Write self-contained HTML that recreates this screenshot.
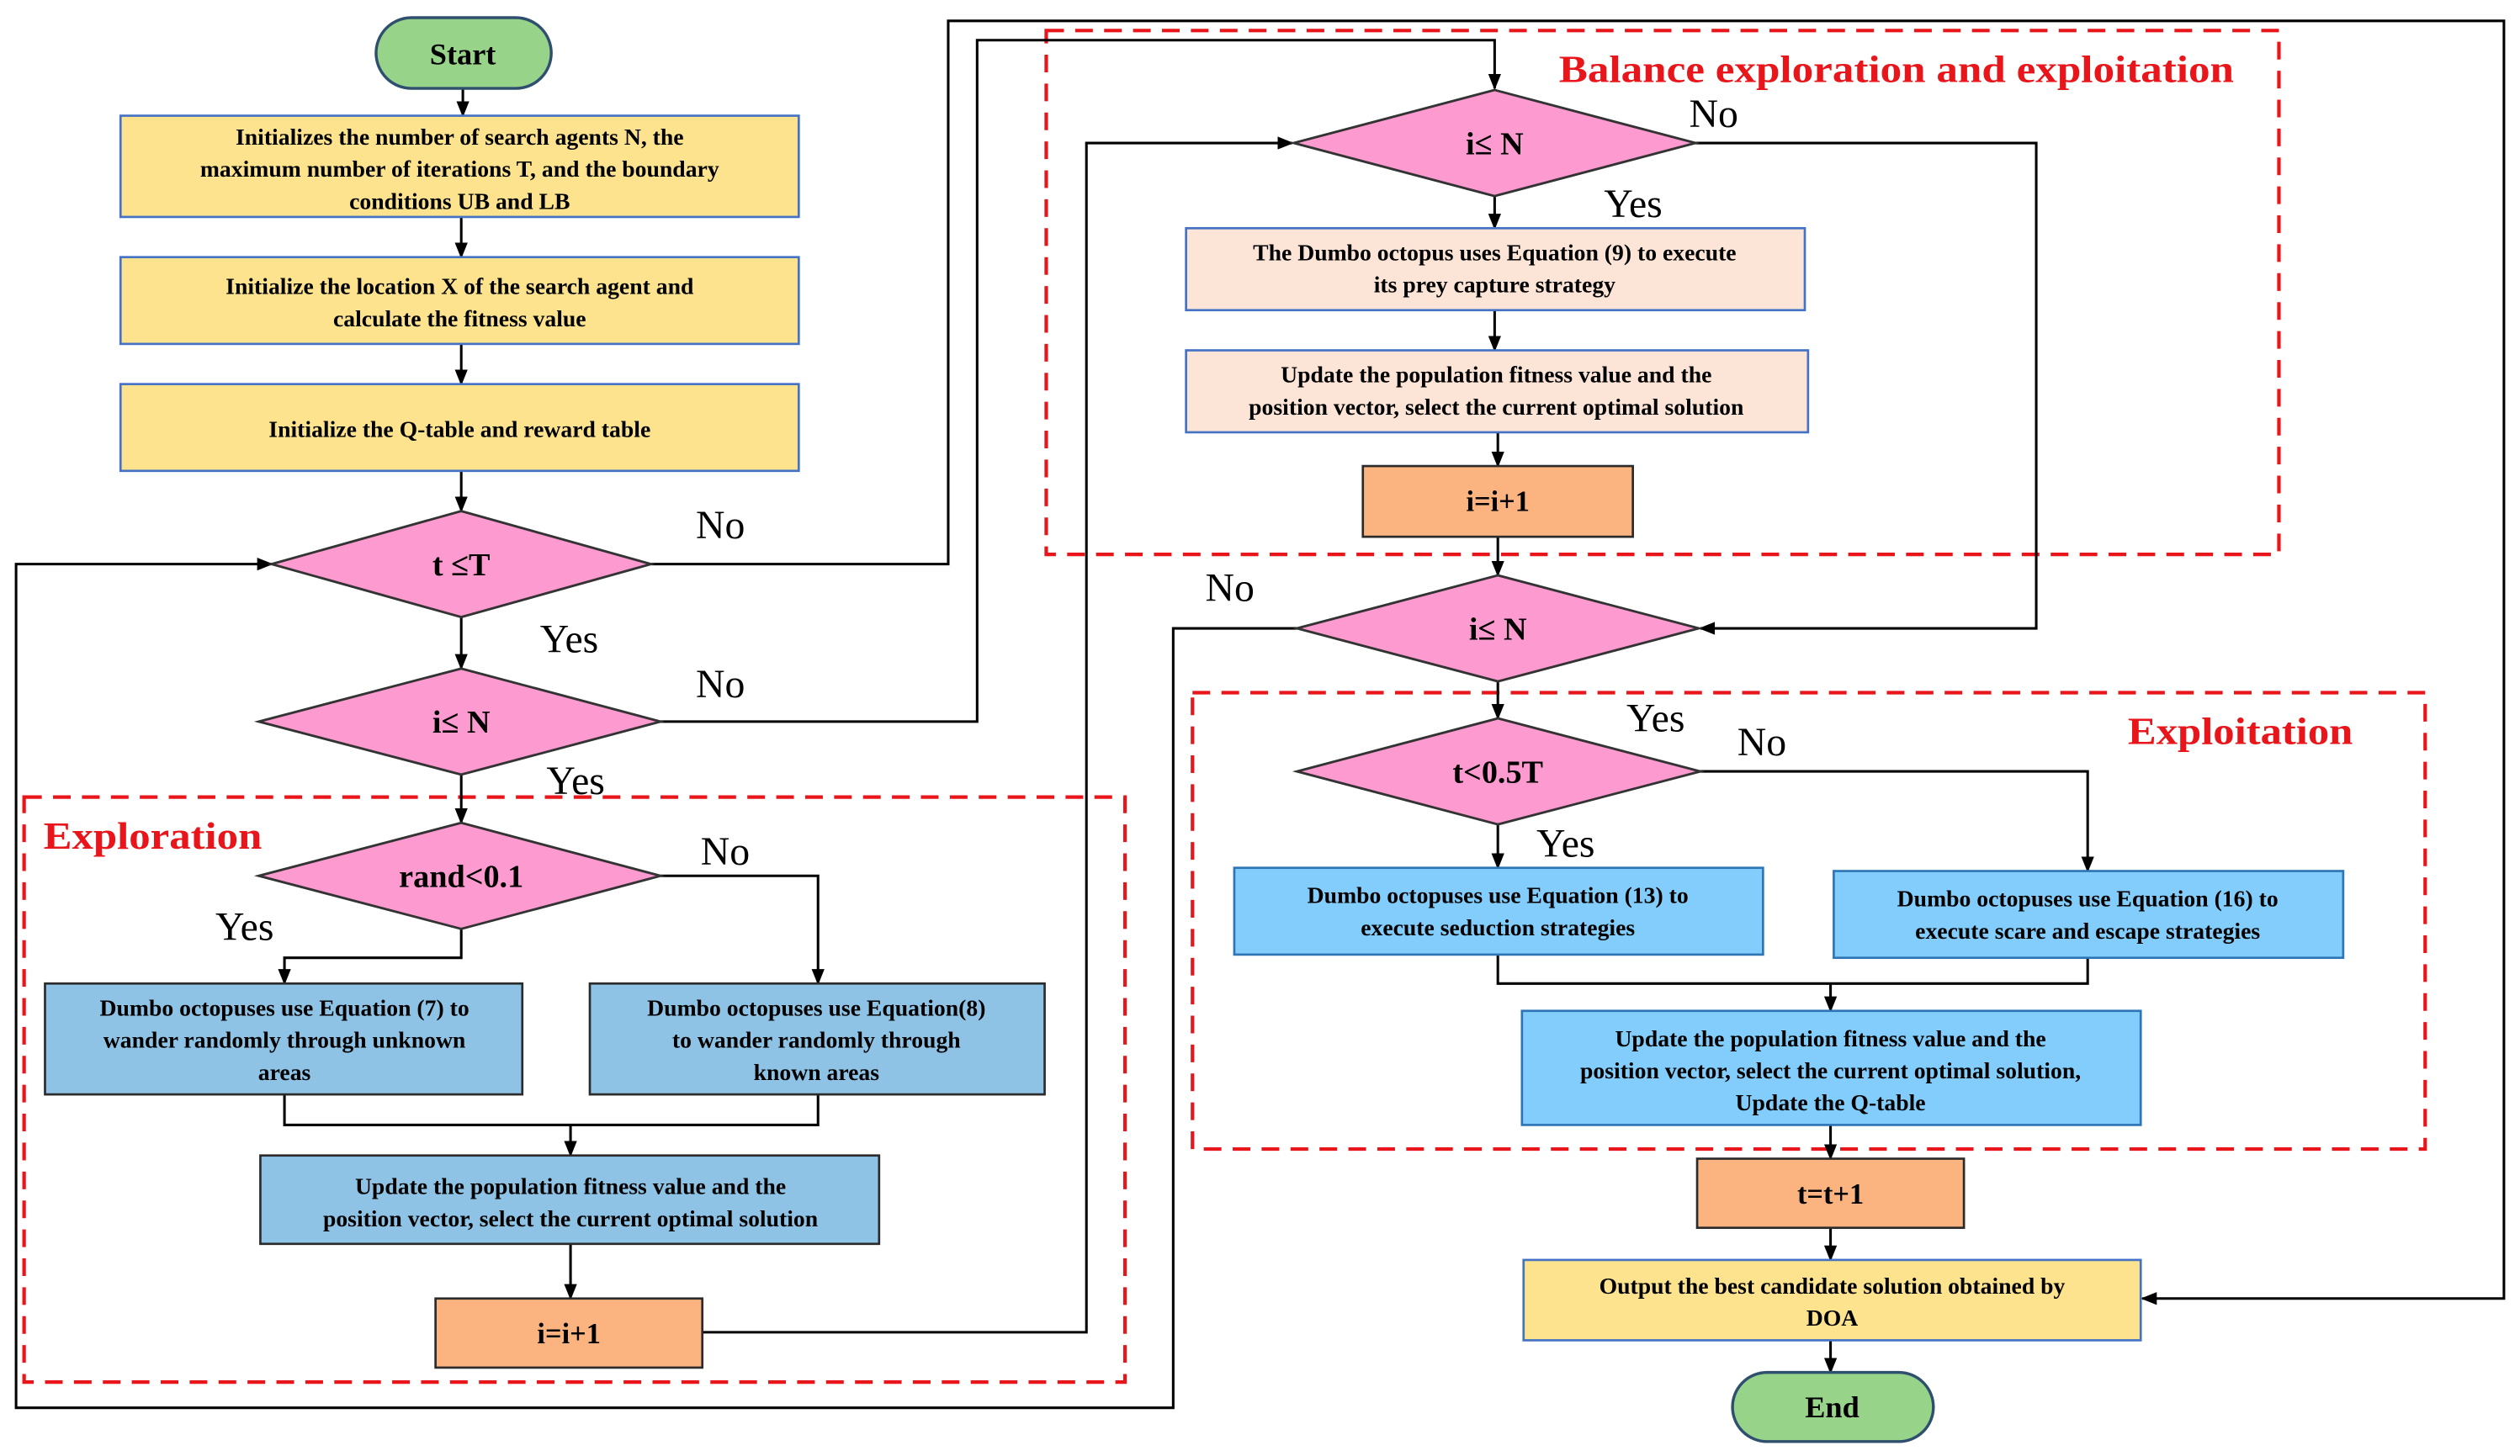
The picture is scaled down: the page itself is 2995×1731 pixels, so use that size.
<!DOCTYPE html>
<html><head><meta charset="utf-8"><style>
html,body{margin:0;padding:0;background:#fff;}
svg{display:block;}
text{font-family:"Liberation Serif","DejaVu Serif",serif;font-weight:bold;fill:#000;}
.t{font-size:14.5px;text-anchor:middle;}
.d{font-size:20px;text-anchor:middle;}
.l{font-size:25px;font-weight:normal;}
.r{font-size:24px;fill:#e8161b;}
</style></head><body>
<svg width="2995" height="1731" viewBox="0 0 1568 906" preserveAspectRatio="none" xmlns="http://www.w3.org/2000/svg" font-family="Liberation Serif, DejaVu Serif, serif">
<defs><marker id="a" markerWidth="10" markerHeight="10" refX="9" refY="5" orient="auto" markerUnits="userSpaceOnUse"><path d="M0,1 L10,5 L0,9 Z" fill="#000"/></marker></defs>
<g fill="none" stroke="#e8161b" stroke-width="2.2" stroke-dasharray="11,7">
<rect x="15" y="496" width="685" height="364"/>
<rect x="651" y="19" width="767" height="326"/>
<rect x="742" y="431" width="767" height="284"/>
</g>
<g fill="none" stroke="#000" stroke-width="1.6">
<path d="M288,55V72" marker-end="url(#a)"/>
<path d="M287,135V160" marker-end="url(#a)"/>
<path d="M287,214V239" marker-end="url(#a)"/>
<path d="M287,293V318" marker-end="url(#a)"/>
<path d="M287,384V416" marker-end="url(#a)"/>
<path d="M287,482V512" marker-end="url(#a)"/>
<path d="M287,578V596H177V612" marker-end="url(#a)"/>
<path d="M411,545H509V612" marker-end="url(#a)"/>
<path d="M177,681V700H509V681M355,700V719" marker-end="url(#a)"/>
<path d="M355,774V808" marker-end="url(#a)"/>
<path d="M437,829H676V89H804" marker-end="url(#a)"/>
<path d="M405,351H590V13H1558V808H1333" marker-end="url(#a)"/>
<path d="M411,449H608V25H930V55" marker-end="url(#a)"/>
<path d="M930,122V142" marker-end="url(#a)"/>
<path d="M930,193V218" marker-end="url(#a)"/>
<path d="M932,269V290" marker-end="url(#a)"/>
<path d="M932,334V358" marker-end="url(#a)"/>
<path d="M1055,89H1267V391H1058" marker-end="url(#a)"/>
<path d="M807,391H730V876H10V351H169" marker-end="url(#a)"/>
<path d="M932,424V447" marker-end="url(#a)"/>
<path d="M932,513V540" marker-end="url(#a)"/>
<path d="M1058,480H1299V542" marker-end="url(#a)"/>
<path d="M932,594V612H1299V596M1139,612V629" marker-end="url(#a)"/>
<path d="M1139,700V721" marker-end="url(#a)"/>
<path d="M1139,764V784" marker-end="url(#a)"/>
<path d="M1139,834V854" marker-end="url(#a)"/>
</g>
<rect x="234" y="11" width="109" height="44" rx="22" fill="#98d38a" stroke="#2f4f6f" stroke-width="1.8"/>
<text class="d" x="288" y="40" style="font-size:19px">Start</text>
<g fill="#fde38e" stroke="#4472c4" stroke-width="1.4">
<rect x="75" y="72" width="422" height="63"/>
<rect x="75" y="160" width="422" height="54"/>
<rect x="75" y="239" width="422" height="54"/>
<rect x="948" y="784" width="384" height="50"/>
</g>
<text class="t" x="286" y="90">Initializes the number of search agents N, the</text>
<text class="t" x="286" y="110">maximum number of iterations T, and the boundary</text>
<text class="t" x="286" y="130">conditions UB and LB</text>
<text class="t" x="286" y="183">Initialize the location X of the search agent and</text>
<text class="t" x="286" y="203">calculate the fitness value</text>
<text class="t" x="286" y="272">Initialize the Q-table and reward table</text>
<g fill="#fd9ad0" stroke="#333" stroke-width="1.5">
<path d="M169,351L287,318L405,351L287,384Z"/>
<path d="M161,449L287,416L411,449L287,482Z"/>
<path d="M161,545L287,512L411,545L287,578Z"/>
<path d="M805,89L930,56L1055,89L930,122Z"/>
<path d="M807,391L932,358L1057,391L932,424Z"/>
<path d="M807,480L932,447L1058,480L932,513Z"/>
</g>
<text class="d" x="287" y="358">t ≤T</text>
<text class="d" x="287" y="456">i≤ N</text>
<text class="d" x="287" y="552">rand&lt;0.1</text>
<text class="d" x="930" y="96">i≤ N</text>
<text class="d" x="932" y="398">i≤ N</text>
<text class="d" x="932" y="487">t&lt;0.5T</text>
<g fill="#8ec3e6" stroke="#2b2b2b" stroke-width="1.4">
<rect x="28" y="612" width="297" height="69"/>
<rect x="367" y="612" width="283" height="69"/>
<rect x="162" y="719" width="385" height="55"/>
</g>
<text class="t" x="177" y="632">Dumbo octopuses use Equation (7) to</text>
<text class="t" x="177" y="652">wander randomly through unknown</text>
<text class="t" x="177" y="672">areas</text>
<text class="t" x="508" y="632">Dumbo octopuses use Equation(8)</text>
<text class="t" x="508" y="652">to wander randomly through</text>
<text class="t" x="508" y="672">known areas</text>
<text class="t" x="355" y="743">Update the population fitness value and the</text>
<text class="t" x="355" y="763">position vector, select the current optimal solution</text>
<g fill="#fbb47f" stroke="#2b2b2b" stroke-width="1.4">
<rect x="271" y="808" width="166" height="43"/>
<rect x="848" y="290" width="168" height="44"/>
<rect x="1056" y="721" width="166" height="43"/>
</g>
<text class="d" x="354" y="836" style="font-size:18px">i=i+1</text>
<text class="d" x="932" y="318" style="font-size:18px">i=i+1</text>
<text class="d" x="1139" y="749" style="font-size:18px">t=t+1</text>
<g fill="#fce4d6" stroke="#4472c4" stroke-width="1.4">
<rect x="738" y="142" width="385" height="51"/>
<rect x="738" y="218" width="387" height="51"/>
</g>
<text class="t" x="930" y="162">The Dumbo octopus uses Equation (9) to execute</text>
<text class="t" x="930" y="182">its prey capture strategy</text>
<text class="t" x="931" y="238">Update the population fitness value and the</text>
<text class="t" x="931" y="258">position vector, select the current optimal solution</text>
<g fill="#82cdfb" stroke="#2e75b6" stroke-width="1.4">
<rect x="768" y="540" width="329" height="54"/>
<rect x="1141" y="542" width="317" height="54"/>
<rect x="947" y="629" width="385" height="71"/>
</g>
<text class="t" x="932" y="562">Dumbo octopuses use Equation (13) to</text>
<text class="t" x="932" y="582">execute seduction strategies</text>
<text class="t" x="1299" y="564">Dumbo octopuses use Equation (16) to</text>
<text class="t" x="1299" y="584">execute scare and escape strategies</text>
<text class="t" x="1139" y="651">Update the population fitness value and the</text>
<text class="t" x="1139" y="671">position vector, select the current optimal solution,</text>
<text class="t" x="1139" y="691">Update the Q-table</text>
<text class="t" x="1140" y="805">Output the best candidate solution obtained by</text>
<text class="t" x="1140" y="825">DOA</text>
<rect x="1078" y="854" width="125" height="43" rx="21.5" fill="#98d38a" stroke="#2f4f6f" stroke-width="1.8"/>
<text class="d" x="1140" y="882" style="font-size:19px">End</text>
<text class="l" x="433" y="335" font-weight="normal">No</text>
<text class="l" x="336" y="406" font-weight="normal">Yes</text>
<text class="l" x="433" y="434" font-weight="normal">No</text>
<text class="l" x="340" y="494" font-weight="normal">Yes</text>
<text class="l" x="436" y="538" font-weight="normal">No</text>
<text class="l" x="134" y="585" font-weight="normal">Yes</text>
<text class="l" x="1051" y="79" font-weight="normal">No</text>
<text class="l" x="998" y="135" font-weight="normal">Yes</text>
<text class="l" x="750" y="374" font-weight="normal">No</text>
<text class="l" x="1012" y="455" font-weight="normal">Yes</text>
<text class="l" x="1081" y="470" font-weight="normal">No</text>
<text class="l" x="956" y="533" font-weight="normal">Yes</text>
<text class="r" x="970" y="51" textLength="420" lengthAdjust="spacingAndGlyphs">Balance exploration and exploitation</text>
<text class="r" x="27" y="528" textLength="136" lengthAdjust="spacingAndGlyphs">Exploration</text>
<text class="r" x="1324" y="463" textLength="140" lengthAdjust="spacingAndGlyphs">Exploitation</text>
</svg>
</body></html>
